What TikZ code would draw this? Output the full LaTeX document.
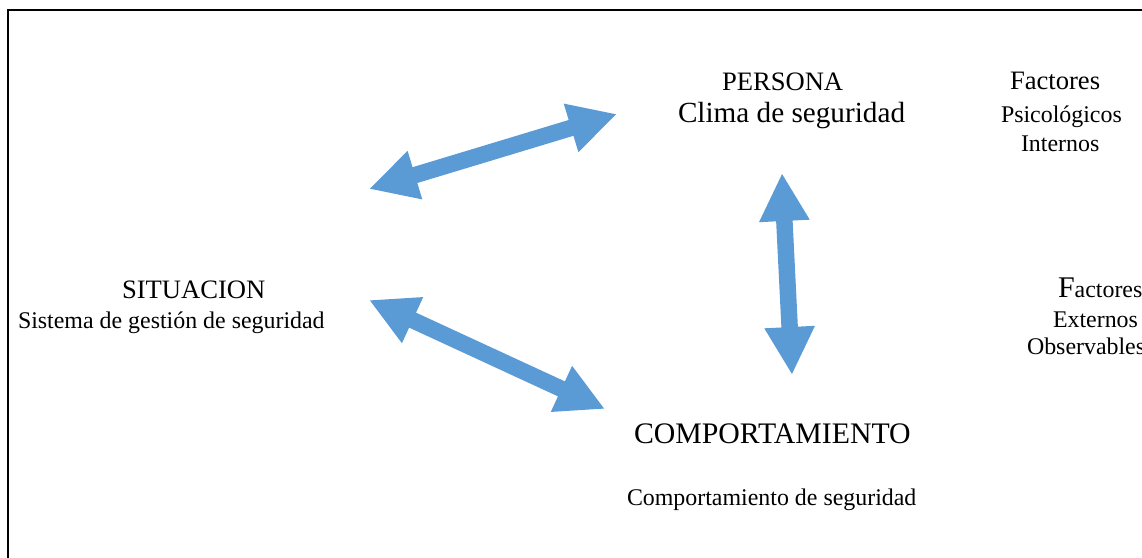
\documentclass[tikz,border=0pt]{standalone}
\usepackage{fontspec}
\setmainfont{Liberation Serif}
\usetikzlibrary{arrows.meta}
\definecolor{arrowblue}{HTML}{5B9BD5}
\tikzset{
  txt/.style={anchor=base west, inner sep=0pt, outer sep=0pt},
  dblarrow/.style={draw=arrowblue, line width=16.5pt,
    {Triangle[width=47pt,length=48pt]}-{Triangle[width=47pt,length=48pt]}},
}
\newcommand{\fsA}{\fontsize{26.6}{30}\selectfont}
\newcommand{\fsB}{\fontsize{29.2}{33}\selectfont}
\newcommand{\fsD}{\fontsize{29.8}{33}\selectfont}
\newcommand{\fsC}{\fontsize{23.9}{27}\selectfont}
\begin{document}
\begin{tikzpicture}[x=1pt,y=-1pt]
\useasboundingbox (0,0) rectangle (1142,557);
% frame (partly outside the visible area)
\draw[line width=2pt] (8,600) -- (8,10) -- (1200,10);
% texts
\node[txt] (persona) at (722,90) {\fsA PERSONA};
\node[txt] (clima) at (678,122) {\fsB Clima de seguridad};
\node[txt] (situacion) at (122,298) {\fsA SITUACION};
\node[txt] (sistema) at (18,328) {\fsC Sistema de gestión de seguridad};
\node[txt] (comport) at (634,443) {\fsD COMPORTAMIENTO};
\node[txt] (compseg) at (627,505) {\fsC Comportamiento de seguridad};
\node[txt] (fact1) at (1010,89) {\fsA Factores};
\node[txt] (psico) at (1001,122) {\fsC Psicológicos};
\node[txt] (internos) at (1021,151) {\fsC Internos};
\node[txt] (fact2) at (1058,297) {{\fontsize{30}{33}\selectfont F}{\fsC actores}};
\node[txt] (externos) at (1053,327) {\fsC Externos};
\node[txt] (observ) at (1027,354) {\fsC Observables};
% arrow end points
\coordinate (s1) at (369,189);
\coordinate (p1) at (617,114);
\coordinate (s2) at (369,300);
\coordinate (c2) at (605,409);
\coordinate (p3) at (782,173);
\coordinate (c3) at (792,375);
\draw[dblarrow] (s1) -- (p1);
\draw[dblarrow] (s2) -- (c2);
\draw[dblarrow] (p3) -- (c3);
\end{tikzpicture}
\end{document}
